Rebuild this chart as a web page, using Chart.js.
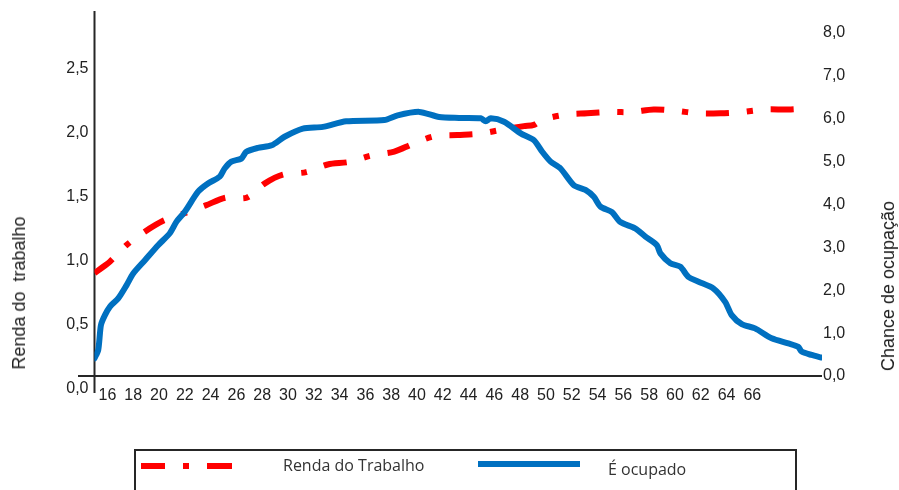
<!DOCTYPE html>
<html lang="pt">
<head>
<meta charset="utf-8">
<title>Renda do trabalho e chance de ocupação por idade</title>
<script src="https://cdn.jsdelivr.net/npm/chart.js@4.4.1/dist/chart.umd.min.js"></script>
<style>
    html, body { margin: 0; padding: 0; background: #ffffff; }
    #wrap { position: relative; width: 899px; height: 490px; overflow: hidden; }
    #chart { position: absolute; left: 0; top: 0; }
    .axis-title {
        position: absolute;
        font-family: "Liberation Sans", Arial, sans-serif;
        font-size: 18px;
        line-height: 20px;
        color: #222222;
        white-space: pre;
        transform: translate(-50%, -50%) rotate(-90deg);
    }
    #legend-box {
        position: absolute;
        left: 134px; top: 449px; width: 663px; height: 60px;
        border: 2px solid #262626;
        box-sizing: border-box;
    }
    .swatch { position: absolute; height: 6px; }
    .legend-text {
        position: absolute;
        font-family: "Open Sans", "Noto Sans", sans-serif;
        font-size: 16px;
        line-height: 22px;
        color: #333333;
        white-space: nowrap;
    }
</style>
</head>
<body>
<div id="wrap">
    <canvas id="chart" width="899" height="490"></canvas>
    <div class="axis-title" style="left:19px; top:293px;">Renda do  trabalho</div>
    <div class="axis-title" style="left:888px; top:286px;">Chance de ocupação</div>
    <div id="legend-box"></div>
    <div class="swatch" style="left:141px; top:463px; width:24px; background:#ff0000;"></div>
    <div class="swatch" style="left:183px; top:463px; width:6px; background:#ff0000;"></div>
    <div class="swatch" style="left:207px; top:463px; width:25px; background:#ff0000;"></div>
    <div class="legend-text" style="left:283px; top:454px;">Renda do Trabalho</div>
    <div class="swatch" style="left:478px; top:461px; width:102px; background:#0070c0;"></div>
    <div class="legend-text" style="left:608px; top:458px;">É ocupado</div>
</div>
<script>
// Idades (eixo x) e valores
const rendaAges = [15.0, 15.68, 16.2, 17.49, 18.83, 20.32, 22.0, 23.62, 25.17, 26.79, 28.18, 29.6, 31.41,
    33.08, 34.76, 36.44, 38.24, 39.66, 41.33, 43.14, 44.81, 46.49, 48.29, 49.06, 49.71, 51.52, 53.19,
    55.0, 56.67, 58.35, 60.03, 61.83, 63.51, 65.18, 66.99, 68.79, 70.47];
const rendaValues = [0.90, 0.95, 0.99, 1.12, 1.22, 1.31, 1.37, 1.43, 1.49, 1.49, 1.60, 1.67, 1.69,
    1.75, 1.77, 1.82, 1.85, 1.91, 1.97, 1.98, 1.99, 2.02, 2.05, 2.06, 2.10, 2.14, 2.15,
    2.16, 2.16, 2.18, 2.17, 2.15, 2.15, 2.16, 2.18, 2.18, 2.19];

const ocupadoAges = [15.0, 15.29, 15.5, 15.81, 16.2, 16.84, 17.49, 18.0, 18.91, 19.93, 20.84, 21.36, 22.0,
    23.03, 23.8, 24.71, 25.09, 25.61, 26.38, 26.77, 27.67, 28.73, 29.73, 31.15, 32.7, 34.51, 37.47,
    38.5, 40.18, 41.72, 43.27, 44.95, 45.33, 45.72, 46.75, 48.04, 49.07, 49.71, 50.36, 51.13, 52.16,
    53.06, 53.71, 54.23, 55.12, 55.77, 56.93, 57.71, 58.6, 58.87, 59.64, 60.41, 61.05, 61.83, 62.99,
    63.89, 64.4, 65.18, 66.21, 67.5, 68.79, 69.56, 69.82, 70.59, 71.36];
const ocupadoValues = [0.41, 0.61, 1.19, 1.42, 1.62, 1.81, 2.12, 2.39, 2.70, 3.05, 3.33, 3.60, 3.83,
    4.30, 4.49, 4.65, 4.84, 5.00, 5.07, 5.23, 5.32, 5.38, 5.58, 5.77, 5.81, 5.94, 5.97,
    6.08, 6.16, 6.04, 6.02, 6.01, 5.94, 6.01, 5.93, 5.66, 5.50, 5.23, 5.00, 4.84, 4.45,
    4.34, 4.18, 3.95, 3.82, 3.59, 3.44, 3.25, 3.05, 2.86, 2.63, 2.55, 2.31, 2.20, 2.04,
    1.73, 1.42, 1.21, 1.11, 0.88, 0.76, 0.68, 0.57, 0.49, 0.43];

const ageTicks = [16, 18, 20, 22, 24, 26, 28, 30, 32, 34, 36, 38, 40, 42, 44, 46, 48, 50, 52, 54, 56, 58, 60, 62, 64, 66];
const rendaTicks = [0, 0.5, 1.0, 1.5, 2.0, 2.5];
const chanceTicks = [0, 1, 2, 3, 4, 5, 6, 7, 8];

const tickFont = { family: '"Liberation Sans", Arial, sans-serif', size: 16 };
const tickColor = '#222222';

function toPoints(xs, ys) {
    return xs.map((x, i) => ({ x: x, y: ys[i] }));
}

function decimalComma(v) {
    return Number(v).toFixed(1).replace('.', ',');
}

// fixed box sizes so the plot area lands where the original one is
function fixWidth(w) {
    return scale => {
        scale.width = w;
        scale.paddingTop = 0;
        scale.paddingBottom = 0;
    };
}

// eixos desenhados à mão para prolongar as linhas além da área do gráfico
const axisLines = {
    id: 'axisLines',
    beforeDatasetsDraw(chart) {
        const { ctx, chartArea } = chart;
        ctx.save();
        ctx.strokeStyle = '#262626';
        ctx.lineWidth = 2;
        ctx.beginPath();
        ctx.moveTo(78, chartArea.bottom);
        ctx.lineTo(chartArea.right, chartArea.bottom);
        ctx.moveTo(chartArea.left, chartArea.top);
        ctx.lineTo(chartArea.left, chartArea.bottom + 17);
        ctx.stroke();
        ctx.restore();
    }
};

new Chart(document.getElementById('chart'), {
    type: 'line',
    data: {
        datasets: [
            {
                label: 'É ocupado',
                data: toPoints(ocupadoAges, ocupadoValues),
                yAxisID: 'yChance',
                borderColor: '#0070c0',
                borderWidth: 6,
                borderJoinStyle: 'round',
                borderCapStyle: 'round',
                pointRadius: 0,
                tension: 0.25,
                fill: false,
                order: 0
            },
            {
                label: 'Renda do Trabalho',
                data: toPoints(rendaAges, rendaValues),
                yAxisID: 'yRenda',
                borderColor: '#ff0000',
                borderWidth: 6,
                borderDash: [23, 18, 6, 18],
                borderCapStyle: 'butt',
                pointRadius: 0,
                tension: 0.3,
                fill: false,
                order: 1
            }
        ]
    },
    options: {
        responsive: false,
        animation: false,
        events: [],
        layout: { padding: { top: 11, left: 0, right: 0, bottom: 0 } },
        plugins: {
            legend: { display: false },
            tooltip: { enabled: false }
        },
        scales: {
            x: {
                type: 'linear',
                min: 15,
                max: 71.4,
                grid: { display: false, drawTicks: false },
                border: { display: false },
                afterBuildTicks: scale => { scale.ticks = ageTicks.map(v => ({ value: v })); },
                afterFit: scale => {
                    scale.height = 114;
                    scale.paddingLeft = 0;
                    scale.paddingRight = 0;
                },
                ticks: {
                    font: tickFont,
                    color: tickColor,
                    padding: 10,
                    autoSkip: false,
                    maxRotation: 0,
                    callback: v => String(v)
                }
            },
            yRenda: {
                type: 'linear',
                position: 'left',
                min: 0.096,
                max: 2.95,
                grid: { display: false, drawTicks: false },
                border: { display: false },
                afterBuildTicks: scale => { scale.ticks = rendaTicks.map(v => ({ value: v })); },
                afterFit: fixWidth(94.5),
                ticks: {
                    font: tickFont,
                    color: tickColor,
                    padding: 6,
                    autoSkip: false,
                    callback: v => decimalComma(v)
                }
            },
            yChance: {
                type: 'linear',
                position: 'right',
                min: 0,
                max: 8.513,
                grid: { display: false, drawTicks: false },
                border: { display: false },
                afterBuildTicks: scale => { scale.ticks = chanceTicks.map(v => ({ value: v })); },
                afterFit: fixWidth(77),
                ticks: {
                    font: tickFont,
                    color: tickColor,
                    padding: 1,
                    autoSkip: false,
                    callback: v => decimalComma(v)
                }
            }
        }
    },
    plugins: [axisLines]
});
</script>
</body>
</html>
